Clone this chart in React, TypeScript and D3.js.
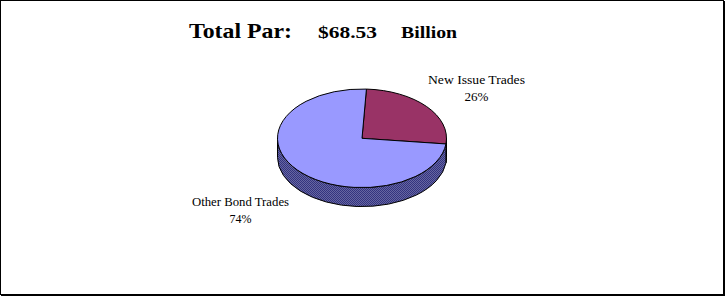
import React from "react";
import * as d3 from "d3";

const categories = ["New Issue Trades", "Other Bond Trades"];
const values = [26, 74];
const titleParts = ["Total Par:", "$68.53", "Billion"];

const W = 726;
const H = 298;
const cx = 362;
const cy = 138.3;
const rx = 84.5;
const ry = 49.3;
const depth = 19;
const startOffset = (3 * Math.PI) / 180;

const topColors = ["#993366", "#9999FF"];
const sideDark = ["#4d1a33", "#333380"];
const sideLight = ["#7a4060", "#6666A0"];

const font = "'Liberation Serif', 'Times New Roman', serif";

function pt(a: number, dy = 0): [number, number] {
  return [cx + rx * Math.sin(a), cy - ry * Math.cos(a) + dy];
}

export default function App() {
  const pie = d3
    .pie<number>()
    .sort(null)
    .startAngle(startOffset)
    .endAngle(startOffset + 2 * Math.PI);
  const arcs = pie(values);

  const topPath = (a0: number, a1: number) => {
    const p0 = pt(a0);
    const p1 = pt(a1);
    const large = a1 - a0 > Math.PI ? 1 : 0;
    return `M${cx},${cy}L${p0[0]},${p0[1]}A${rx},${ry} 0 ${large} 1 ${p1[0]},${p1[1]}Z`;
  };

  const sidePath = (a0: number, a1: number) => {
    const segs: string[] = [];
    const ranges = [
      [Math.PI / 2, (3 * Math.PI) / 2],
      [Math.PI / 2 + 2 * Math.PI, (3 * Math.PI) / 2 + 2 * Math.PI],
    ];
    for (const [v0, v1] of ranges) {
      const s = Math.max(a0, v0);
      const e = Math.min(a1, v1);
      if (e > s) {
        const p0 = pt(s);
        const p1 = pt(e);
        const q1 = pt(e, depth);
        const q0 = pt(s, depth);
        const large = e - s > Math.PI ? 1 : 0;
        segs.push(
          `M${p0[0]},${p0[1]}A${rx},${ry} 0 ${large} 1 ${p1[0]},${p1[1]}L${q1[0]},${q1[1]}A${rx},${ry} 0 ${large} 0 ${q0[0]},${q0[1]}Z`
        );
      }
    }
    return segs.join("");
  };

  const labelPos = [
    { x: 476.5, y: 83.5, w: 97, pw: 24 },
    { x: 240.5, y: 205.7, w: 97, pw: 22 },
  ];

  return (
    <svg
      width={W}
      height={H}
      style={{ position: "absolute", left: 0, top: 0, background: "#fff" }}
    >
      <defs>
        {arcs.map((_, i) => (
          <pattern
            key={i}
            id={`side${i}`}
            width={2}
            height={2}
            patternUnits="userSpaceOnUse"
          >
            <rect width={2} height={2} fill={sideLight[i]} />
            <rect width={1} height={1} fill={sideDark[i]} />
            <rect x={1} y={1} width={1} height={1} fill={sideDark[i]} />
          </pattern>
        ))}
      </defs>
      <rect x={0.5} y={0.5} width={723} height={294} fill="#fff" stroke="#000" strokeWidth={1} />
      <line x1={724.5} y1={1} x2={724.5} y2={296} stroke="#000" strokeWidth={1} />
      <line x1={1} y1={295.5} x2={725} y2={295.5} stroke="#000" strokeWidth={1} />

      <text
        x={189}
        y={38}
        fontFamily={font}
        fontWeight="bold"
        fontSize={22}
        textLength={103}
        lengthAdjust="spacingAndGlyphs"
      >
        {titleParts[0]}
      </text>
      <text
        x={318}
        y={37.5}
        fontFamily={font}
        fontWeight="bold"
        fontSize={17.5}
        textLength={59}
        lengthAdjust="spacingAndGlyphs"
      >
        {titleParts[1]}
      </text>
      <text
        x={401}
        y={37.5}
        fontFamily={font}
        fontWeight="bold"
        fontSize={17.5}
        textLength={56}
        lengthAdjust="spacingAndGlyphs"
      >
        {titleParts[2]}
      </text>

      {arcs.map((a, i) => (
        <path
          key={"s" + i}
          d={sidePath(a.startAngle, a.endAngle)}
          fill={`url(#side${i})`}
          stroke="#000"
          strokeWidth={1}
        />
      ))}
      {arcs.map((a, i) => (
        <path
          key={"t" + i}
          d={topPath(a.startAngle, a.endAngle)}
          fill={topColors[i]}
          stroke="#000"
          strokeWidth={1}
          strokeLinejoin="round"
        />
      ))}

      {arcs.map((a, i) => (
        <g key={"l" + i} fontFamily={font} fontSize={12} fill="#000">
          <text
            x={labelPos[i].x - labelPos[i].w / 2}
            y={labelPos[i].y}
            textLength={labelPos[i].w}
            lengthAdjust="spacingAndGlyphs"
          >
            {categories[i]}
          </text>
          <text
            x={labelPos[i].x - labelPos[i].pw / 2}
            y={labelPos[i].y + 17.3}
            textLength={labelPos[i].pw}
            lengthAdjust="spacingAndGlyphs"
          >
            {`${Math.round((a.value / d3.sum(values)) * 100)}%`}
          </text>
        </g>
      ))}
    </svg>
  );
}
